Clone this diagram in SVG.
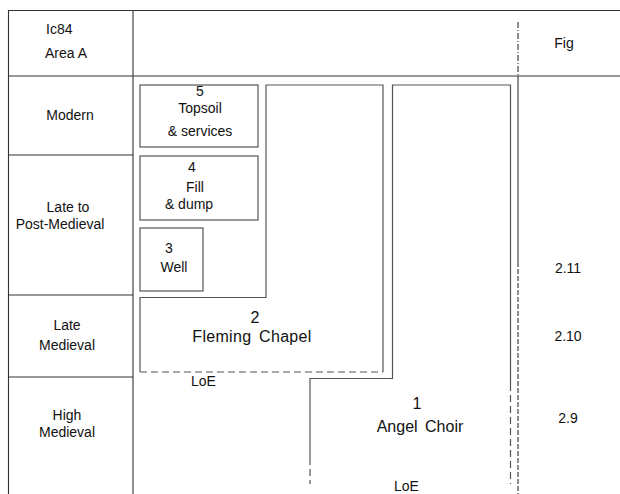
<svg xmlns="http://www.w3.org/2000/svg" width="620" height="494" viewBox="0 0 620 494">
<style>
text{font-family:"Liberation Sans",Arial,sans-serif;fill:#111;}
.t{font-size:14px;}
.c{text-anchor:middle;}
.big{font-size:16px;}
.grid{stroke:#333;stroke-width:1.1;fill:none;}
.box{stroke:#555;stroke-width:1.2;fill:none;}
.dash{stroke:#555;stroke-width:1.2;fill:none;stroke-dasharray:7,4;}
</style>
<rect width="620" height="494" fill="#fff"/>
<g id="grid">
  <line class="grid" x1="8" y1="10.5" x2="620" y2="10.5"/>
  <line class="grid" x1="8" y1="76" x2="620" y2="76"/>
  <line class="grid" x1="8.5" y1="10" x2="8.5" y2="494"/>
  <line class="grid" x1="133" y1="10" x2="133" y2="494"/>
  <line class="grid" x1="8" y1="155" x2="133" y2="155"/>
  <line class="grid" x1="8" y1="295" x2="133" y2="295"/>
  <line class="grid" x1="8" y1="377" x2="133" y2="377"/>
  <line class="grid" x1="518" y1="22" x2="518" y2="76" stroke-dasharray="6,2,1,2"/>
  <line class="grid" x1="518" y1="76" x2="518" y2="262"/>
  <line class="grid" x1="518" y1="262" x2="518" y2="494" stroke-dasharray="5,2" stroke="#666"/>
</g>
<g id="row-labels">
  <text class="t" x="46" y="34">Ic84</text>
  <text class="t" x="45" y="58">Area A</text>
  <text class="t c" x="70" y="120">Modern</text>
  <text class="t c" x="68" y="212">Late to</text>
  <text class="t c" x="60" y="229">Post-Medieval</text>
  <text class="t c" x="67" y="330">Late</text>
  <text class="t c" x="67" y="350">Medieval</text>
  <text class="t c" x="67" y="420">High</text>
  <text class="t c" x="67" y="437">Medieval</text>
</g>
<g id="fig-labels">
  <text class="t c" x="564" y="48">Fig</text>
  <text class="t c" x="568" y="273">2.11</text>
  <text class="t c" x="568" y="341">2.10</text>
  <text class="t c" x="568" y="423">2.9</text>
</g>
<g id="node-5">
  <rect class="box" x="140" y="85" width="118" height="62"/>
  <text class="t c" x="200" y="96">5</text>
  <text class="t c" x="200" y="113">Topsoil</text>
  <text class="t c" x="200" y="136">&amp; services</text>
</g>
<g id="node-4">
  <rect class="box" x="140" y="156" width="118" height="64"/>
  <text class="t c" x="192" y="172">4</text>
  <text class="t c" x="195" y="192">Fill</text>
  <text class="t c" x="189" y="209">&amp; dump</text>
</g>
<g id="node-3">
  <rect class="box" x="140" y="228" width="63" height="63"/>
  <text class="t c" x="169" y="253">3</text>
  <text class="t c" x="174" y="272">Well</text>
</g>
<g id="node-2">
  <path class="box" d="M383,372 L383,85 L266,85 L266,297.5 L140,297.5 L140,372"/>
  <line class="dash" x1="140" y1="372" x2="383" y2="372"/>
  <text class="big c" x="255" y="323">2</text>
  <text class="big c" x="252" y="342" letter-spacing="0.3" word-spacing="3">Fleming Chapel</text>
  <text class="t" x="191" y="386">LoE</text>
</g>
<g id="node-1">
  <path class="box" d="M310,458 L310,378.5 L392.5,378.5 L392.5,85 L510.5,85 L510.5,384"/>
  <line class="dash" x1="310" y1="458" x2="310" y2="484" stroke-dasharray="8,6"/>
  <line class="dash" x1="510.5" y1="384" x2="510.5" y2="484" stroke-dasharray="8,6"/>
  <text class="big c" x="417" y="409">1</text>
  <text class="big c" x="420" y="432" word-spacing="3">Angel Choir</text>
  <text class="t" x="394" y="491">LoE</text>
</g>
</svg>
